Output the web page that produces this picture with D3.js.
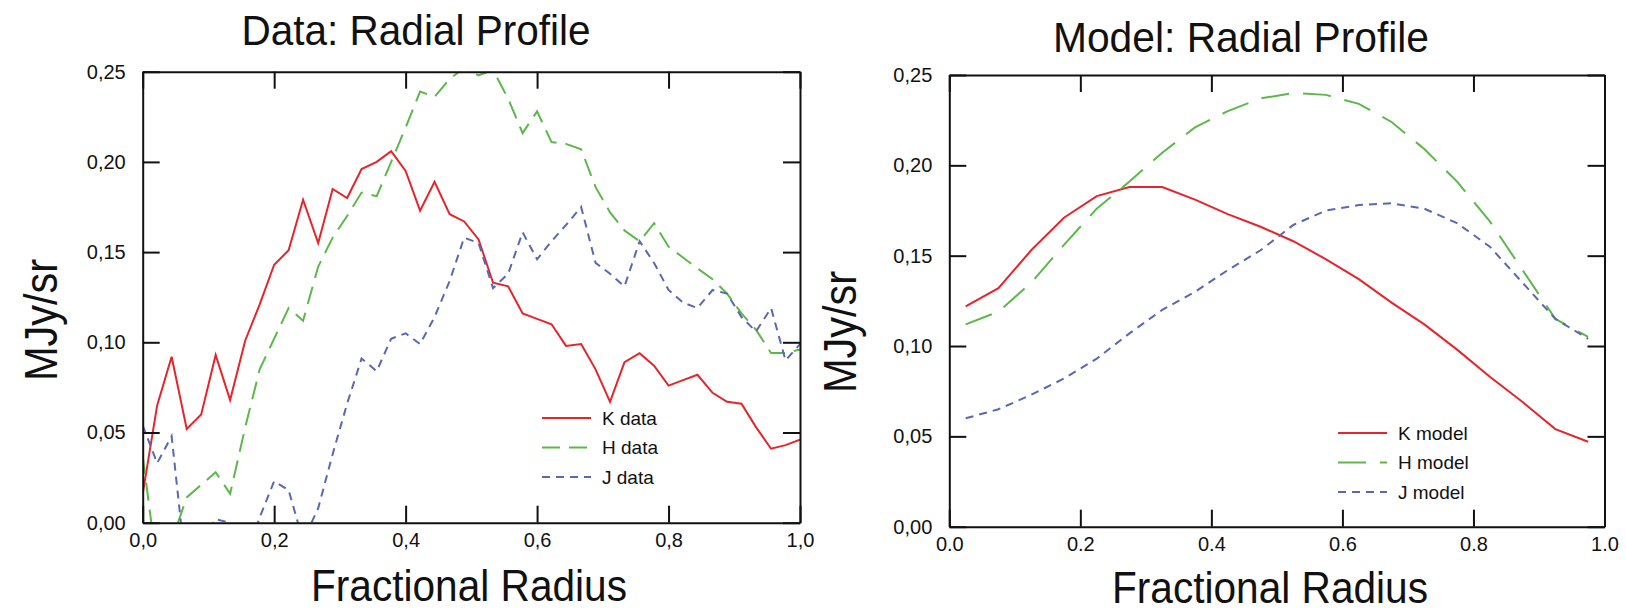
<!DOCTYPE html>
<html>
<head>
<meta charset="utf-8">
<script src="https://cdn.jsdelivr.net/npm/d3@7"></script>
<style>
    body { margin: 0; background: #fff; }
    .container svg { display: block; }
    text { font-family: "Liberation Sans", Arial, sans-serif; fill: #111; }
    .axis path, .axis line { stroke: #111; stroke-width: 2; }
    .axis text { font-size: 20px; }
    .path { fill: none; stroke-width: 2; }
</style>
</head>
<body>
<div class="container"></div>
<script>
const HEIGHT = 611;
const WIDTH = 1626;
const TICK = 17;

// data panel: fractional radius of each sample
var dataRadius = [0, 0.022, 0.044, 0.067, 0.089, 0.111, 0.133, 0.156, 0.178, 0.2,
    0.222, 0.244, 0.267, 0.289, 0.311, 0.333, 0.356, 0.378, 0.4, 0.422,
    0.444, 0.467, 0.489, 0.511, 0.533, 0.556, 0.578, 0.6, 0.622, 0.644,
    0.667, 0.689, 0.711, 0.733, 0.756, 0.778, 0.8, 0.822, 0.844, 0.867,
    0.889, 0.911, 0.933, 0.956, 0.978, 1.0];

var kData = [0.016, 0.065, 0.092, 0.052, 0.060, 0.093, 0.068, 0.101, 0.121, 0.143,
    0.151, 0.179, 0.155, 0.185, 0.180, 0.196, 0.200, 0.206, 0.195, 0.173,
    0.189, 0.171, 0.167, 0.157, 0.133, 0.131, 0.116, 0.113, 0.110, 0.098,
    0.099, 0.085, 0.067, 0.089, 0.094, 0.087, 0.076, 0.079, 0.082, 0.072,
    0.067, 0.066, 0.053, 0.041, 0.043, 0.046];

var hData = [0.037, -0.025, -0.010, 0.014, 0.021, 0.028, 0.016, 0.053, 0.085, 0.102,
    0.119, 0.112, 0.142, 0.158, 0.170, 0.183, 0.181, 0.200, 0.219, 0.239,
    0.236, 0.246, 0.252, 0.248, 0.251, 0.235, 0.216, 0.228, 0.211, 0.210,
    0.207, 0.186, 0.172, 0.162, 0.156, 0.166, 0.153, 0.147, 0.141, 0.135,
    0.127, 0.116, 0.107, 0.094, 0.094, 0.096];

var jData = [0.054, 0.033, 0.048, -0.030, -0.010, 0.002, 0.000, -0.020, 0.003, 0.023,
    0.018, -0.010, 0.008, 0.038, 0.066, 0.091, 0.084, 0.102, 0.105, 0.099,
    0.114, 0.134, 0.158, 0.155, 0.130, 0.138, 0.161, 0.146, 0.156, 0.165,
    0.175, 0.144, 0.138, 0.131, 0.156, 0.144, 0.129, 0.122, 0.119, 0.129,
    0.127, 0.114, 0.106, 0.119, 0.090, 0.099];

// model panel
var modelRadius = [0.025, 0.075, 0.125, 0.175, 0.225, 0.275, 0.325, 0.375, 0.425, 0.475,
    0.525, 0.575, 0.625, 0.675, 0.725, 0.775, 0.825, 0.875, 0.925, 0.975];
var kModel = [0.122, 0.132, 0.153, 0.171, 0.183, 0.188, 0.188, 0.181, 0.173, 0.166,
    0.158, 0.148, 0.137, 0.124, 0.112, 0.098, 0.083, 0.069, 0.054, 0.047];
var hModel = [0.112, 0.119, 0.135, 0.156, 0.176, 0.191, 0.207, 0.221, 0.230, 0.237,
    0.240, 0.239, 0.234, 0.224, 0.209, 0.191, 0.169, 0.142, 0.115, 0.105];
var jModel = [0.060, 0.065, 0.073, 0.082, 0.093, 0.107, 0.120, 0.130, 0.142, 0.153,
    0.167, 0.175, 0.178, 0.179, 0.176, 0.168, 0.155, 0.135, 0.115, 0.104];

// ticks
var xTicks = [0, 0.2, 0.4, 0.6, 0.8, 1.0];
var yTicks = [0, 0.05, 0.10, 0.15, 0.20, 0.25];
var xTickLabelsData = ['0,0', '0,2', '0,4', '0,6', '0,8', '1,0'];
var xTickLabelsModel = ['0.0', '0.2', '0.4', '0.6', '0.8', '1.0'];
var yTickLabels = ['0,00', '0,05', '0,10', '0,15', '0,20', '0,25'];

var RED = '#e5252b';
var GREEN = '#5cb848';
var BLUE = '#5868b2';

var panels = [
    {
        id: 'data', title: 'Data: Radial Profile', left: 142.7, right: 800, top: 71.7, bottom: 522.7,
        titleX: 416, titleY: 45, titleLen: 349,
        xLabelX: 469, xLabelY: 601, yLabelX: 57, yLabelY: 320,
        xTickLabels: xTickLabelsData,
        legendX: 542, legendY: 418,
        series: [
            { label: 'K data', x: dataRadius, y: kData, color: RED, dash: null },
            { label: 'H data', x: dataRadius, y: hData, color: GREEN, dash: '18,9' },
            { label: 'J data', x: dataRadius, y: jData, color: BLUE, dash: '8,6' }
        ]
    },
    {
        id: 'model', title: 'Model: Radial Profile', left: 949.3, right: 1604.5, top: 75, bottom: 526.7,
        titleX: 1241, titleY: 52, titleLen: 376,
        xLabelX: 1270, xLabelY: 603, yLabelX: 856, yLabelY: 332,
        xTickLabels: xTickLabelsModel,
        legendX: 1338, legendY: 433,
        series: [
            { label: 'K model', x: modelRadius, y: kModel, color: RED, dash: null },
            { label: 'H model', x: modelRadius, y: hModel, color: GREEN, dash: '28,14' },
            { label: 'J model', x: modelRadius, y: jModel, color: BLUE, dash: '8,6' }
        ]
    }
];

var translate = function(x, y) {
    return `translate(${x},${y})`;
};

var drawPanel = function(svg, p) {
    let xScale = d3.scaleLinear()
        .domain([0, 1])
        .range([p.left, p.right]);

    let yScale = d3.scaleLinear()
        .domain([0, 0.25])
        .range([p.bottom, p.top]);

    let xAxis = d3.axisBottom(xScale).tickValues(xTicks)
        .tickFormat((d, i) => p.xTickLabels[i]).tickSizeInner(-TICK).tickSizeOuter(0).tickPadding(10);
    let yAxis = d3.axisLeft(yScale).tickValues(yTicks)
        .tickFormat((d, i) => yTickLabels[i]).tickSizeInner(-TICK).tickSizeOuter(0).tickPadding(17);
    let xTop = d3.axisTop(xScale).tickValues(xTicks).tickFormat('').tickSizeInner(-TICK).tickSizeOuter(0);
    let yRight = d3.axisRight(yScale).tickValues(yTicks).tickFormat('').tickSizeInner(-TICK).tickSizeOuter(0);

    svg.append('clipPath').attr('id', 'clip-' + p.id)
        .append('rect')
        .attr('x', p.left).attr('y', p.top)
        .attr('width', p.right - p.left).attr('height', p.bottom - p.top);

    var g = svg.append('g').attr('clip-path', `url(#clip-${p.id})`);

    p.series.forEach(s => {
        var line = d3.line()
            .x((d, i) => xScale(s.x[i]))
            .y(d => yScale(d));
        g.append('path')
            .classed('path', true)
            .attr('d', line(s.y))
            .attr('stroke', s.color)
            .attr('stroke-dasharray', s.dash);
    });

    svg.append('g').attr('transform', translate(0, p.bottom)).classed('axis', true).call(xAxis);
    svg.append('g').attr('transform', translate(p.left, 0)).classed('axis', true).call(yAxis);
    svg.append('g').attr('transform', translate(0, p.top)).classed('axis', true).call(xTop);
    svg.append('g').attr('transform', translate(p.right, 0)).classed('axis', true).call(yRight);

    svg.selectAll('.axis text').attr('font-family', null);

    // legend
    var legend = svg.append('g').attr('transform', translate(p.legendX, p.legendY));
    p.series.forEach((s, i) => {
        legend.append('line')
            .attr('x1', 0).attr('x2', 49)
            .attr('y1', i * 29.5).attr('y2', i * 29.5)
            .attr('stroke', s.color).attr('stroke-width', 2)
            .attr('stroke-dasharray', s.dash);
        legend.append('text')
            .attr('x', 60).attr('y', i * 29.5)
            .attr('dy', '0.35em')
            .style('font-size', '19px')
            .text(s.label);
    });

    // titles
    svg.append('text')
        .attr('x', p.titleX).attr('y', p.titleY)
        .attr('text-anchor', 'middle')
        .attr('textLength', p.titleLen).attr('lengthAdjust', 'spacingAndGlyphs')
        .style('font-size', '42px')
        .text(p.title);

    svg.append('text')
        .attr('x', p.xLabelX).attr('y', p.xLabelY)
        .attr('text-anchor', 'middle')
        .attr('textLength', 316).attr('lengthAdjust', 'spacingAndGlyphs')
        .style('font-size', '44px')
        .text('Fractional Radius');

    svg.append('text')
        .attr('transform', translate(p.yLabelX, p.yLabelY) + ' rotate(-90)')
        .attr('text-anchor', 'middle')
        .attr('textLength', 122).attr('lengthAdjust', 'spacingAndGlyphs')
        .style('font-size', '46px')
        .text('MJy/sr');
};

var fillLayout = function() {
    var svg = d3.select('.container').append('svg')
        .attr('width', WIDTH)
        .attr('height', HEIGHT);

    panels.forEach(p => drawPanel(svg, p));
};
window.onload = fillLayout;
</script>
</body>
</html>
